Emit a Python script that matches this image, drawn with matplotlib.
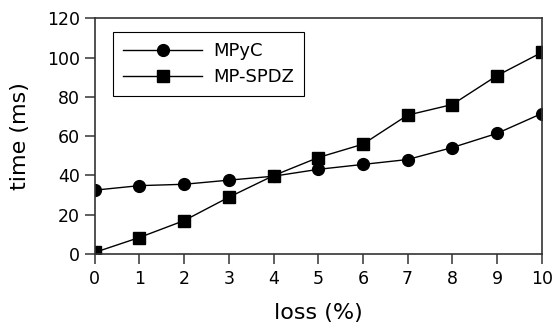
import numpy as np
import matplotlib.pyplot as plt

loss = [0, 1, 2, 3, 4, 5, 6, 7, 8, 9, 10]
mpyc = [32.5, 34.8, 35.5, 37.6, 39.6, 43.1, 45.6, 48.1, 54.2, 61.4, 71.5]
mpspdz = [0.8, 8.4, 17.0, 28.9, 39.9, 49.1, 55.9, 70.7, 76.1, 90.8, 102.6]

fig = plt.figure(figsize=(5.53, 3.27), dpi=100)
ax = fig.add_axes([94.7/553, 1 - 254/327, (541.7 - 94.7)/553, (254 - 18.3)/327])

ax.plot(loss, mpyc, '-o', color='black', lw=1, ms=8.5, label='MPyC')
ax.plot(loss, mpspdz, '-s', color='black', lw=1, ms=8.5, label='MP-SPDZ')

ax.set_xlim(0, 10)
ax.set_ylim(0, 120)
ax.set_xticks(range(0, 11))
ax.set_yticks(range(0, 121, 20))
ax.tick_params(labelsize=12.5, direction='out', length=7, width=1.1,
               color='#333333', top=False, right=False)
ax.tick_params(axis='x', pad=4.5)
for s in ax.spines.values():
    s.set_linewidth(1.2)
    s.set_color('#333333')
ax.set_xlabel('loss (%)', fontsize=16, labelpad=11)
ax.set_ylabel('time (ms)', fontsize=16, labelpad=12)

leg = ax.legend(loc='upper left', bbox_to_anchor=(0.041, 0.942), borderaxespad=0,
                fontsize=13, fancybox=False, framealpha=1,
                edgecolor='black', handlelength=4.4, labelspacing=0.45,
                handletextpad=0.6, borderpad=0.55)
leg.get_frame().set_linewidth(0.8)

fig.savefig('out.png', dpi=100)
